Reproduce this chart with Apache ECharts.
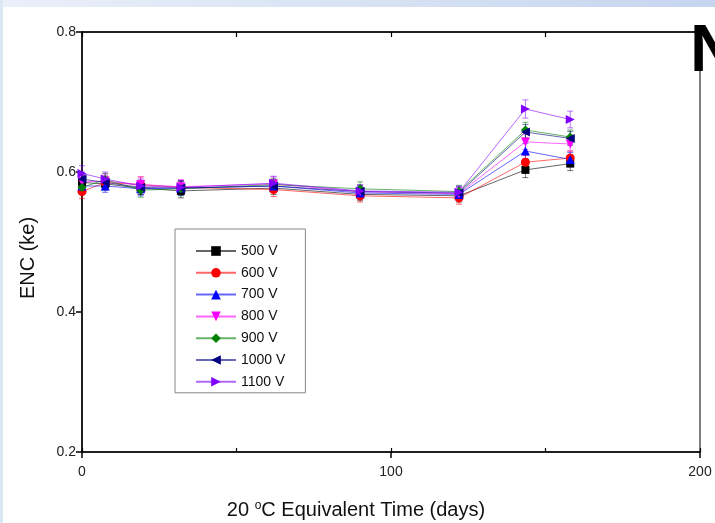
<!DOCTYPE html>
<html>
<head>
<meta charset="utf-8">
<script src="https://cdn.jsdelivr.net/npm/echarts@6/dist/echarts.min.js"></script>
<style>
  html, body { margin: 0; padding: 0; background: #fff; }
  #chart { width: 715px; height: 523px; }
</style>
</head>
<body>
<div id="chart"></div>
<script>
// equivalent time (days) of each measurement
var days = [0, 7.5, 19, 32, 62, 90, 122, 143.5, 158];

// ENC (ke) for each bias voltage
var v500  = [0.585, 0.583, 0.577, 0.573, 0.577, 0.568, 0.566, 0.603, 0.612];
var v600  = [0.572, 0.585, 0.582, 0.578, 0.575, 0.566, 0.563, 0.614, 0.620];
var v700  = [0.580, 0.580, 0.576, 0.577, 0.580, 0.570, 0.568, 0.630, 0.618];
var v800  = [0.586, 0.587, 0.582, 0.579, 0.583, 0.572, 0.569, 0.643, 0.640];
var v900  = [0.578, 0.589, 0.574, 0.576, 0.582, 0.576, 0.572, 0.660, 0.650];
var v1000 = [0.590, 0.585, 0.578, 0.577, 0.580, 0.572, 0.570, 0.657, 0.648];
var v1100 = [0.598, 0.590, 0.580, 0.578, 0.584, 0.573, 0.571, 0.690, 0.675];

// error bar half-heights
var e500  = [0.010, 0.009, 0.009, 0.010, 0.009, 0.009, 0.009, 0.011, 0.010];
var e600  = [0.010, 0.009, 0.011, 0.010, 0.010, 0.009, 0.009, 0.010, 0.010];
var e700  = [0.010, 0.009, 0.010, 0.010, 0.009, 0.009, 0.009, 0.011, 0.010];
var e800  = [0.010, 0.010, 0.011, 0.010, 0.010, 0.009, 0.009, 0.011, 0.010];
var e900  = [0.010, 0.009, 0.010, 0.010, 0.009, 0.010, 0.009, 0.011, 0.010];
var e1000 = [0.010, 0.009, 0.010, 0.010, 0.009, 0.009, 0.009, 0.011, 0.010];
var e1100 = [0.011, 0.010, 0.010, 0.010, 0.010, 0.009, 0.009, 0.013, 0.012];

var names   = ['500 V', '600 V', '700 V', '800 V', '900 V', '1000 V', '1100 V'];
var values  = [v500, v600, v700, v800, v900, v1000, v1100];
var errors  = [e500, e600, e700, e800, e900, e1000, e1100];
var colors  = ['#000000', '#ff0000', '#0000ff', '#ff00ff', '#008000', '#000080', '#8000ff'];
var symbols = ['rect', 'circle', 'triangle', 'triangle', 'diamond', 'triangle', 'triangle'];
var rotates = [0, 0, 0, 180, 0, 90, -90];

var series = [];
names.forEach(function (nm, i) {
    var pts = days.map(function (d, j) { return [d, values[i][j]]; });
    var bars = days.map(function (d, j) { return [d, values[i][j], errors[i][j]]; });
    // error bars
    series.push({
        type: 'custom',
        name: nm + ' err',
        z: 1,
        silent: true,
        data: bars,
        renderItem: function (params, api) {
            var x = api.value(0), y = api.value(1), e = api.value(2);
            var lo = api.coord([x, y - e]);
            var hi = api.coord([x, y + e]);
            var st = { stroke: colors[i], lineWidth: 1, opacity: 0.55 };
            return {
                type: 'group',
                children: [
                    { type: 'line', shape: { x1: lo[0], y1: lo[1], x2: hi[0], y2: hi[1] }, style: st },
                    { type: 'line', shape: { x1: lo[0] - 3, y1: lo[1], x2: lo[0] + 3, y2: lo[1] }, style: st },
                    { type: 'line', shape: { x1: hi[0] - 3, y1: hi[1], x2: hi[0] + 3, y2: hi[1] }, style: st }
                ]
            };
        }
    });
    series.push({
        type: 'line',
        name: nm,
        z: 2,
        data: pts,
        symbol: symbols[i],
        symbolSize: symbols[i] == 'rect' ? 8 : 9,
        symbolRotate: rotates[i],
        itemStyle: { color: colors[i] },
        lineStyle: { color: colors[i], width: 1, opacity: 0.6 }
    });
});

var option = {
    backgroundColor: '#ffffff',
    animation: false,
    textStyle: { fontFamily: 'Liberation Sans, Arial, sans-serif' },
    grid: { left: 82, right: 15, top: 32, bottom: 71, show: true, borderColor: '#000', borderWidth: 1 },
    legend: {
        orient: 'vertical',
        left: 175,
        top: 229,
        data: names,
        backgroundColor: '#fff',
        borderColor: '#888',
        borderWidth: 1,
        borderRadius: 0,
        padding: [15, 20, 4, 20],
        itemGap: 7.8,
        itemWidth: 40,
        itemHeight: 12,
        textStyle: { fontSize: 14, color: '#111', padding: [0, 0, 0, 0] }
    },
    xAxis: [{
        type: 'value',
        min: 0, max: 200, interval: 100,
        position: 'bottom',
        axisLine: { lineStyle: { color: '#000', width: 1.5 } },
        axisTick: { show: true, length: 6, inside: false, lineStyle: { color: '#000', width: 1.5 } },
        axisLabel: { fontSize: 14, color: '#222', margin: 13 },
        splitLine: { show: false }
    }, {
        type: 'value',
        min: 0, max: 200, interval: 50,
        position: 'bottom',
        axisLine: { show: false },
        axisTick: { show: true, length: 4, inside: true, lineStyle: { color: '#000', width: 1.2 } },
        axisLabel: { show: false },
        splitLine: { show: false }
    }, {
        type: 'value',
        min: 0, max: 200, interval: 50,
        position: 'top',
        axisLine: { lineStyle: { color: '#000', width: 1.5 } },
        axisTick: { show: true, length: 5, inside: true, lineStyle: { color: '#000', width: 1.2 } },
        axisLabel: { show: false },
        splitLine: { show: false }
    }],
    yAxis: [{
        type: 'value',
        min: 0.2, max: 0.8, interval: 0.2,
        axisLine: { show: true, lineStyle: { color: '#000', width: 1.5 } },
        axisTick: { show: true, length: 6, inside: false, lineStyle: { color: '#000', width: 1.5 } },
        axisLabel: { fontSize: 14, color: '#222', margin: 6, formatter: function (v) { return v.toFixed(1); } },
        splitLine: { show: false }
    }],
    graphic: [
        {
            type: 'rect', left: 0, top: 0, z: 100,
            shape: { width: 715, height: 7 },
            style: {
                fill: new echarts.graphic.LinearGradient(0, 0, 1, 0, [
                    { offset: 0, color: '#eaf0f9' },
                    { offset: 1, color: '#c6d5ef' }
                ])
            }
        },
        {
            type: 'rect', left: 0, top: 0, z: 100,
            shape: { width: 3, height: 523 },
            style: { fill: '#dce6f5' }
        },
        {
            type: 'text', left: 690, top: 20, z: 100,
            style: { text: 'N', fontSize: 66, fontWeight: 'bold', fontFamily: 'Liberation Sans, Arial, sans-serif', fill: '#000' }
        },
        {
            type: 'text', x: 28, y: 258, rotation: Math.PI / 2, z: 100,
            style: {
                text: 'ENC (ke)', fontSize: 20, fill: '#111',
                fontFamily: 'Liberation Sans, Arial, sans-serif',
                textAlign: 'center', textVerticalAlign: 'middle'
            }
        },
        {
            type: 'text', x: 356, y: 510, z: 100,
            style: {
                text: '20 {sup|o}C Equivalent Time (days)',
                fontSize: 20, fill: '#111',
                fontFamily: 'Liberation Sans, Arial, sans-serif',
                textAlign: 'center', textVerticalAlign: 'middle',
                rich: {
                    sup: { fontSize: 12, verticalAlign: 'top', fill: '#111', fontFamily: 'Liberation Sans, Arial, sans-serif' }
                }
            }
        }
    ],
    series: series
};

var chart = echarts.init(document.getElementById('chart'), null, { renderer: 'canvas' });
chart.setOption(option);
</script>
</body>
</html>
